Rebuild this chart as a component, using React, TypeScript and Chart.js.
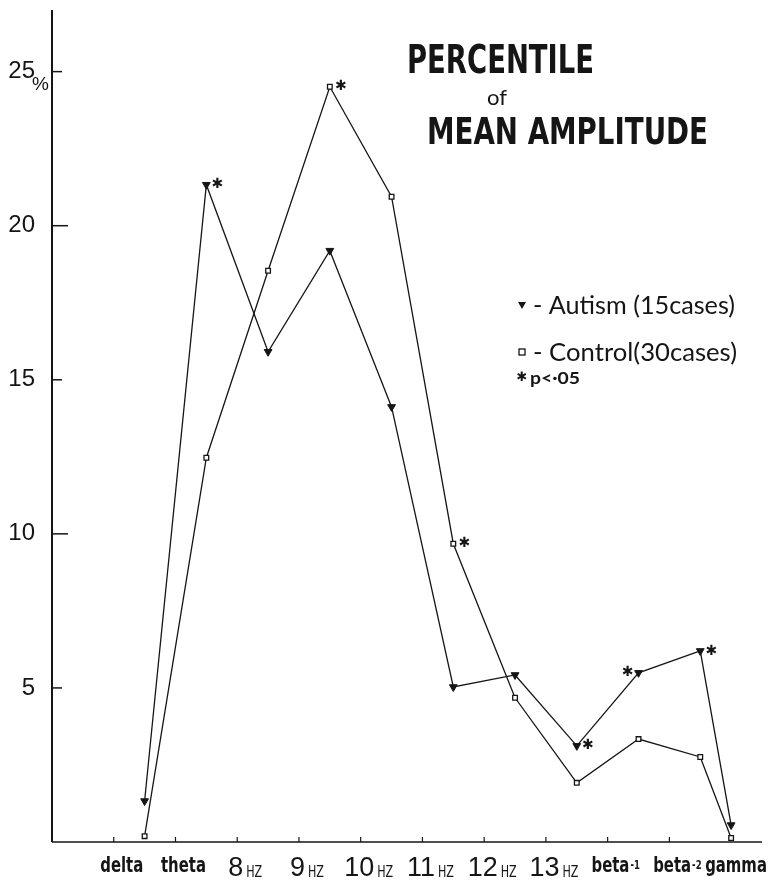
import React, { useEffect, useRef } from 'react';
import { Chart, registerables } from 'chart.js';

Chart.register(...registerables);

// ---- data ----
const bandNames = ['delta', 'theta', '8', '9', '10', '11', '12', '13', 'beta', 'beta', 'gamma'];
const bandSubs = ['', '', 'HZ', 'HZ', 'HZ', 'HZ', 'HZ', 'HZ', '-1', '-2', ''];
const bandX = [0, 1, 2, 3, 4, 5, 6, 7, 8, 9, 9.5];
const labelX = [-0.5, 0.5, 1.5, 2.5, 3.5, 4.5, 5.5, 6.5, 7.5, 8.5, 9.45];
const xTickMarks = [-0.5, 0.5, 1.5, 2.5, 3.5, 4.5, 5.5, 6.5, 7.5, 8.5];
const autism = [1.33, 21.33, 15.91, 19.19, 14.12, 5.03, 5.42, 3.12, 5.49, 6.2, 0.55];
const control = [0.19, 12.47, 18.54, 24.51, 20.94, 9.68, 4.68, 1.92, 3.34, 2.76, 0.13];
// significance marks: 1 = asterisk right of point, -1 = left, 0 = none
const autismSig = [0, 1, 0, 0, 0, 0, 0, 1, -1, 1, 0];
const controlSig = [0, 0, 0, 1, 0, 1, 0, 0, 0, 0, 0];
const yTicks = [5, 10, 15, 20, 25];

const INK = '#151515';
const NARROW = "'Liberation Sans Narrow', 'DejaVu Sans Condensed', 'Roboto Condensed', 'Liberation Sans', sans-serif";
const HUMAN = "Lato, 'Open Sans', 'Noto Sans', sans-serif";

function fitText(ctx: CanvasRenderingContext2D, text: string, font: string, x: number, y: number, w: number) {
  ctx.save();
  ctx.font = font;
  ctx.textAlign = 'left';
  ctx.textBaseline = 'alphabetic';
  const m = ctx.measureText(text).width || 1;
  ctx.translate(x, y);
  ctx.scale(w / m, 1);
  ctx.fillText(text, 0, 0);
  ctx.restore();
}

function scaledText(ctx: CanvasRenderingContext2D, text: string, font: string, x: number, y: number, sx: number) {
  ctx.save();
  ctx.font = font;
  ctx.textAlign = 'left';
  ctx.textBaseline = 'alphabetic';
  ctx.translate(x, y);
  ctx.scale(sx, 1);
  ctx.fillText(text, 0, 0);
  ctx.restore();
}

const decorPlugin = {
  id: 'decor',
  afterDraw(chart: any) {
    const ctx: CanvasRenderingContext2D = chart.ctx;
    const xs = chart.scales.x;
    const ys = chart.scales.y;
    const a = chart.chartArea;
    ctx.save();
    ctx.fillStyle = INK;
    ctx.strokeStyle = INK;

    // axes
    ctx.lineWidth = 2;
    ctx.beginPath();
    ctx.moveTo(a.left, a.top);
    ctx.lineTo(a.left, a.bottom);
    ctx.stroke();
    ctx.lineWidth = 1.6;
    ctx.beginPath();
    ctx.moveTo(a.left, a.bottom);
    ctx.lineTo(a.right, a.bottom);
    ctx.stroke();

    // y ticks + labels
    ctx.lineWidth = 1.5;
    ctx.font = "24px 'Liberation Sans', Arial, sans-serif";
    ctx.textAlign = 'right';
    ctx.textBaseline = 'middle';
    yTicks.forEach((t) => {
      const py = ys.getPixelForValue(t);
      const len = t % 10 === 0 ? 16 : 10;
      ctx.beginPath();
      ctx.moveTo(a.left, py);
      ctx.lineTo(a.left + len, py);
      ctx.stroke();
      ctx.fillText(String(t), a.left - 17, py);
      if (t === 25) {
        ctx.save();
        ctx.font = "19px 'Liberation Sans', Arial, sans-serif";
        ctx.textAlign = 'left';
        ctx.fillText('%', a.left - 20, py + 13);
        ctx.restore();
      }
    });

    // x tick marks
    ctx.lineWidth = 1.2;
    xTickMarks.forEach((v) => {
      const px = xs.getPixelForValue(v);
      ctx.beginPath();
      ctx.moveTo(px, a.bottom);
      ctx.lineTo(px, a.bottom - 5);
      ctx.stroke();
    });

    // x labels (condensed by horizontal scaling)
    const wordFont = `bold 21px ${NARROW}`;
    const numFont = "28px 'Liberation Sans', Arial, sans-serif";
    const hzFont = `15px ${NARROW}`;
    const idxFont = `bold 12px ${NARROW}`;
    ctx.font = wordFont;
    const wordSx = 43 / ctx.measureText('delta').width;
    ctx.font = hzFont;
    const hzSx = 16 / ctx.measureText('HZ').width;
    ctx.font = numFont;
    const numSx = 15 / ctx.measureText('8').width;
    bandNames.forEach((name, i) => {
      const cx = xs.getPixelForValue(labelX[i]) + 8;
      const sub = bandSubs[i];
      const isNum = /^\d+$/.test(name);
      const mainFont = isNum ? numFont : wordFont;
      const mainSx = isNum ? numSx : wordSx;
      const subFont = isNum ? hzFont : idxFont;
      const subSx = isNum ? hzSx : wordSx;
      ctx.font = mainFont;
      const wm = ctx.measureText(name).width * mainSx;
      ctx.font = subFont;
      const ws = sub ? ctx.measureText(sub).width * subSx : 0;
      const gap = sub ? (isNum ? 3 : 1) : 0;
      const start = cx - (wm + gap + ws) / 2;
      scaledText(ctx, name, mainFont, start, a.bottom + (isNum ? 34 : 30), mainSx);
      if (sub) {
        scaledText(ctx, sub, subFont, start + wm + gap, a.bottom + (isNum ? 35 : 27), subSx);
      }
    });

    // significance asterisks
    ctx.font = "bold 14px 'DejaVu Sans', sans-serif";
    ctx.textAlign = 'center';
    ctx.textBaseline = 'middle';
    const star = (vals: number[], sig: number[]) => {
      sig.forEach((s, i) => {
        if (!s) return;
        const px = xs.getPixelForValue(bandX[i]);
        const py = ys.getPixelForValue(vals[i]);
        ctx.fillText('\u2731', px + s * 11, py);
      });
    };
    star(autism, autismSig);
    star(control, controlSig);

    // title
    fitText(ctx, 'PERCENTILE', `bold 39px ${NARROW}`, 407, 73, 187);
    fitText(ctx, 'of', `22px ${HUMAN}`, 487, 105, 20);
    fitText(ctx, 'MEAN AMPLITUDE', `bold 38px ${NARROW}`, 427, 144, 281);

    // legend
    ctx.beginPath();
    ctx.moveTo(518, 302);
    ctx.lineTo(526, 302);
    ctx.lineTo(522, 309);
    ctx.closePath();
    ctx.fill();
    fitText(ctx, '- Autism (15cases)', `25px ${HUMAN}`, 533, 314, 202);
    ctx.lineWidth = 1.3;
    ctx.strokeRect(519, 349, 6, 6);
    fitText(ctx, '- Control(30cases)', `25px ${HUMAN}`, 533, 361, 204);
    ctx.font = "bold 13px 'DejaVu Sans', sans-serif";
    ctx.textAlign = 'center';
    ctx.textBaseline = 'middle';
    ctx.fillText('\u2731', 522, 378);
    fitText(ctx, 'p<·05', `bold 17px ${HUMAN}`, 530, 384, 50);

    ctx.restore();
  },
};

export default function App() {
  const ref = useRef<HTMLCanvasElement | null>(null);
  useEffect(() => {
    document.body.style.margin = '0';
    const canvas = ref.current;
    if (!canvas) return;
    const chart = new Chart(canvas, {
      type: 'line',
      data: {
        datasets: [
          {
            label: 'Autism (15cases)',
            data: bandX.map((x, i) => ({ x, y: autism[i] })),
            borderColor: INK,
            borderWidth: 1.3,
            pointStyle: 'triangle',
            rotation: 180,
            pointRadius: 4.5,
            pointBackgroundColor: INK,
            pointBorderColor: INK,
            pointBorderWidth: 1,
            tension: 0,
            fill: false,
            clip: false as any,
          },
          {
            label: 'Control(30cases)',
            data: bandX.map((x, i) => ({ x, y: control[i] })),
            borderColor: INK,
            borderWidth: 1.3,
            pointStyle: 'rect',
            pointRadius: 3.3,
            pointBackgroundColor: '#ffffff',
            pointBorderColor: INK,
            pointBorderWidth: 1.3,
            tension: 0,
            fill: false,
            clip: false as any,
          },
        ],
      },
      options: {
        animation: false,
        responsive: false,
        devicePixelRatio: 1,
        layout: { padding: { left: 52, right: 7, top: 10, bottom: 41 } },
        scales: {
          x: { type: 'linear', min: -1.5, max: 10, display: false },
          y: { type: 'linear', min: 0, max: 27, display: false },
        },
        plugins: {
          legend: { display: false },
          tooltip: { enabled: false },
          title: { display: false },
        },
      },
      plugins: [decorPlugin],
    });
    return () => chart.destroy();
  }, []);
  return (
    <div style={{ width: 769, height: 883, background: '#fff' }}>
      <canvas ref={ref} width={769} height={883} style={{ display: 'block' }} />
    </div>
  );
}
